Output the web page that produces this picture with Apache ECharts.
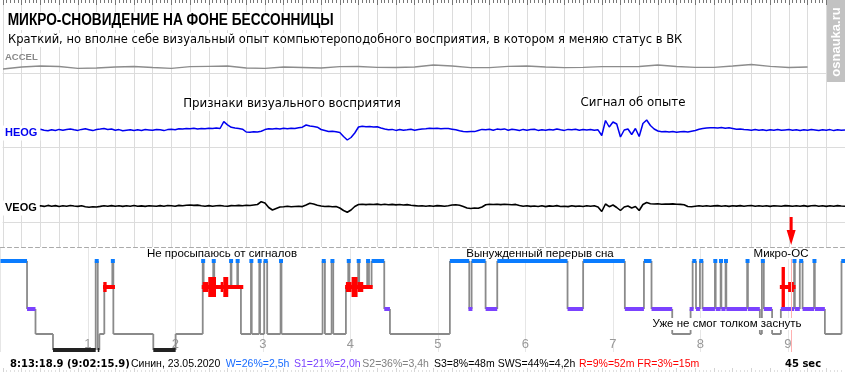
<!DOCTYPE html>
<html><head><meta charset="utf-8">
<script src="https://cdn.jsdelivr.net/npm/echarts@6/dist/echarts.min.js"></script>
<style>html,body{margin:0;padding:0;background:#fff}#c{width:845px;height:372px}</style>
</head><body><div id="c"></div>
<script>
// ---------- DATA ----------
// Signal window: 45 seconds. Values in µV (10 µV ≈ 1 px of the original trace)
const SIGNAL_SECONDS = 45;
const ACCEL_STEP = 1;      // s between ACCEL samples
const EOG_STEP = 0.2;      // s between HEOG / VEOG samples
const accel = [-20,0,10,5,-13,-10,0,5,-5,-13,3,7,10,-10,-13,0,-5,-10,3,5,-3,-5,0,20,10,-7,-7,7,10,0,-7,-3,3,3,5,20,5,-3,-3,10,25,7,-5,0];
const heog = [
0,5,-3,4,-5,2,8,-4,3,-6, 8,-2,-8,3,-5,6,-3,4,10,2, -4,6,12,3,-6,5,9,14,6,10,
-3,4,-7,-2,3,-5,2,-4,5,1, -3,6,2,-6,4,8,3,12,9,15, 13,18,11,16,12,18,14,20,15,83,
52,27,20,15,8,-20,-22,-17,-20,-12, 4,12,9,15,10,17,13,18,15,22, 28,50,40,35,28,5,-5,-15,-12,-18,
-25,-65,-100,-75,-30,30,38,33,35,30, 32,20,10,3,6,-4,5,-3,2,8, -2,4,10,13,18,15,17,12,16,14,
8,2,-8,-15,-18,-14,-16,-5,6,2, 8,-3,9,4,11,-2,7,3,-5,6, -2,5,8,-4,3,-3,6,1,10,2,
-4,6,3,8,-2,5,0,6,-3,2, -55,95,30,80,60,-70,0,10,-45,15, -65,65,100,45,10,-10,-17,-15,-20,-16,
-22,-18,-15,-20,-12,-5,8,15,20,22, 23,20,24,18,22,15,8,10,5,2, -3,4,-2,2,-4,3,-2,5,-3,1,
4,-2,3,-5,2,-3,5,1,-4,3, -2,4,-6,2,-3,1];
const veog = [
0,-4,3,-2,5,-3,2,-5,4,-2, 3,-4,6,-2,4,-5,2,-3,5,0, -4,2,-8,-12,-8,-10,-4,3,-2,4,
-3,2,-4,3,-2,5,-3,1,-4,3, 0,-3,4,-2,5,2,-3,6,3,8, 10,6,9,3,-2,4,-3,2,5,0,
-3,4,2,6,3,8,5,10,15,43, 30,-15,-40,-25,-10,-7,-3,-8,-5,-2, -6,10,27,20,8,0,-5,-3,-8,-5,
-20,-45,-63,-40,-5,15,18,14,17,15, 19,13,17,12,16,11,15,10,14,8, 4,0,3,-2,2,-3,4,1,-2,3,
10,12,8,-5,-20,-25,-20,-23,-10,12, 17,15,18,14,17,15,12,16,5,-2, 3,-4,0,-5,2,-6,1,-3,4,-5,
-2,-6,2,-4,0,-5,3,-3,2,-10, -55,20,-7,10,-15,-45,-10,0,-20,-5, -45,15,35,22,20,22,18,20,19,21,
18,16,12,-5,-8,-3,2,-2,3,-3, 1,4,-2,3,-4,2,-1,4,-3,2, 5,-2,3,-3,2,-4,3,0,-3,4,
1,-3,3,-2,4,-4,2,5,-2,3, -4,2,-3,4,0,-2];

// Hypnogram: minutes from start of recording, stage that begins at that minute
const hypnoStart = [0,18.2,24.0,36.0,65.3,66.7,67.8,71.2,76.7,77.4,104.8,120.1,138.7,139.3,145.9,146.6,157.9,158.4,162.4,162.9,
164.9,171.8,172.3,177.5,178.0,180.9,182.9,192.1,192.7,220.9,222.5,227.1,228.2,236.9,238.5,239.2,245.3,246.0,251.5,252.7,
254.5,263.2,267.1,308.2,321.5,323.1,332.7,340.7,388.9,399.6,428.2,441.3,446.5,460.7,473.3,474.7,477.0,479.7,481.5,490.0,
490.5,493.9,494.4,497.3,497.8,512.1,512.6,520.8,522.2,523.5,529.2,535.2,544.3,544.8,548.2,550.1,558.0,558.5,565.4,576.8];
const hypnoStage = ['W','S1','S2','S3','W','S3','S2','R','W','S2','S3','S2','W','R','W','R','W','R','W','R',
'S2','W','S2','W','S2','W','S2','W','S2','W','S2','W','S2','R','W','R','W','R','W','R',
'W','S1','S2','W','S1','W','S1','W','S1','W','S1','W','S1','S2','S1','W','S1','W','S1','W',
'S1','W','S1','W','S1','W','S1','S2','W','S1','S2','S1','W','S1','W','S1','W','S1','S2','W'];
const hypnoEnd = 579.2;
// REM eye-movement density marks (minutes, level 1..4)
const remStart = [70.3,138.0,236.9,534.5,70.5,138.7,151.0,236.9,244.9,540.2,142.5,152.8,240.8,535.7];
const remEnd   = [78.5,166.5,255.2,545.3,72.8,142.5,152.8,240.8,248.8,544.1,147.8,156.2,244.9,538.0];
const remLevel = [1,1,1,1,2,2,2,2,2,2,3,3,3,4];
const cursorMinute = 542.265; // 9:02:15.9
const hourTicks = [1,2,3,4,5,6,7,8,9];

// ---------- STYLE ----------
const STAGES = ['W','R','S1','S2','S3'];
const STAGE_Y = [14, 40, 62, 87, 103];
const STAGE_COLOR = ['#0a7cff','#ff0000','#7b42ff', null, '#222222'];
const STAGE_H = [4,4,4,0,4];
const REM_H = [0,4,10,20,40];
const GRID_C = '#dcdcdc';
const FF = '"Liberation Sans", Arial, sans-serif';
const DV = '"DejaVu Sans", sans-serif';

const chart = echarts.init(document.getElementById('c'));

const sigX = (gi, pos, extra) => Object.assign({
  gridIndex: gi, type: 'value', min: 0, max: SIGNAL_SECONDS, interval: 1, position: pos,
  axisLine: {show: false, onZero: false}, axisTick: {show: false}, axisLabel: {show: false},
  splitLine: {show: true, lineStyle: {color: GRID_C, width: 1}}
}, extra || {});
const bandLine = {show: true, onZero: false, lineStyle: {color: GRID_C}};

const segs = hypnoStart.map((t, i) => [t, i + 1 < hypnoStart.length ? hypnoStart[i + 1] : hypnoEnd,
  STAGES.indexOf(hypnoStage[i]), i > 0 ? STAGES.indexOf(hypnoStage[i - 1]) : -1]);
const remData = remStart.map((s, i) => [s, remEnd[i], remLevel[i]]);

function connItem(params, api) {
  const k = api.value(2), p = api.value(3);
  const a = api.coord([api.value(0), STAGE_Y[k]]);
  const b = api.coord([api.value(1), STAGE_Y[k]]);
  const ch = [];
  if (p >= 0) {
    const q = api.coord([api.value(0), STAGE_Y[p]]);
    ch.push({type: 'line', shape: {x1: a[0], y1: q[1], x2: a[0], y2: a[1]}, style: {stroke: '#8a8a8a', lineWidth: 1.8}});
  }
  if (k === 3) ch.push({type: 'line', shape: {x1: a[0], y1: a[1], x2: b[0], y2: b[1]}, style: {stroke: '#8a8a8a', lineWidth: 2}});
  return {type: 'group', children: ch};
}
function stageItem(params, api) {
  const k = api.value(2);
  if (!STAGE_COLOR[k]) return null;
  const a = api.coord([api.value(0), STAGE_Y[k]]);
  const b = api.coord([api.value(1), STAGE_Y[k]]);
  let x = a[0], w = b[0] - a[0];
  const minW = k === 4 ? 0 : 4;
  if (w < minW) { x = (a[0] + b[0]) / 2 - minW / 2; w = minW; }
  const h = STAGE_H[k];
  return {type: 'rect', shape: {x: x, y: a[1] - h / 2, width: w, height: h}, style: {fill: STAGE_COLOR[k]}};
}
function remItem(params, api) {
  const a = api.coord([api.value(0), STAGE_Y[1]]);
  const b = api.coord([api.value(1), STAGE_Y[1]]);
  const h = REM_H[api.value(2)];
  return {type: 'rect', shape: {x: a[0], y: a[1] - h / 2, width: Math.max(b[0] - a[0], 2), height: h}, style: {fill: '#ff0000'}};
}

function T(x, y, text, o) {
  o = o || {};
  return {type: 'text', z: 100, style: Object.assign({
    x: x, y: y, text: text, fontFamily: FF, fontSize: 13, fill: '#000',
    verticalAlign: 'middle', align: 'left'
  }, o)};
}
const WB = {backgroundColor: '#fff', padding: [1, 2, 1, 2]};
const WBH = {backgroundColor: '#fff', padding: [0, 2, 0, 2], lineHeight: 11, fontSize: 11.5, align: 'center'};

const option = {
  animation: false,
  textStyle: {fontFamily: FF},
  grid: [
    {left: 3, width: 845, top: 0, height: 73},
    {left: 3, width: 845, top: 73, height: 74},
    {left: 3, width: 845, top: 147, height: 75},
    {left: 3, width: 845, top: 222, height: 25},
    {left: 0.5, width: 844.5, top: 247, height: 105},
    {left: 3, width: 845, top: 352, height: 20}
  ],
  xAxis: [
    sigX(0, 'top', {axisTick: {show: true, inside: true, length: 5, lineStyle: {color: '#777'}},
      minorTick: {show: true, splitNumber: 5, length: 3, lineStyle: {color: '#777'}}}),
    sigX(1, 'top', {axisLine: bandLine}),
    sigX(2, 'top', {axisLine: bandLine}),
    sigX(3, 'top', {axisLine: bandLine}),
    {gridIndex: 4, type: 'value', min: 0, max: hypnoEnd, interval: 60, position: 'bottom',
      axisLine: {show: false, onZero: false}, axisTick: {show: false},
      axisLabel: {show: true, color: '#999', fontSize: 13, margin: -14, showMaxLabel: false, showMinLabel: false,
        formatter: v => (hourTicks.indexOf(v / 60) >= 0 ? String(v / 60) : '')},
      splitLine: {show: true, lineStyle: {color: '#e6e6e6'}}},
    {gridIndex: 4, type: 'value', min: 0, max: hypnoEnd, position: 'top',
      axisLine: {show: true, onZero: false, lineStyle: {color: '#aaaaaa', type: [4, 3]}}, axisTick: {show: false},
      axisLabel: {show: false}, splitLine: {show: false}},
    sigX(5, 'bottom', {splitLine: {show: false},
      axisTick: {show: true, inside: true, length: 4, lineStyle: {color: '#d4d4d4'}},
      minorTick: {show: true, splitNumber: 5, length: 2, lineStyle: {color: '#e0e0e0'}}})
  ],
  yAxis: [
    {gridIndex: 0, type: 'value', min: -60, max: 670, show: false},
    {gridIndex: 1, type: 'value', min: -170, max: 570, show: false},
    {gridIndex: 2, type: 'value', min: -160, max: 590, show: false},
    {gridIndex: 3, type: 'value', min: 0, max: 1, show: false},
    {gridIndex: 4, type: 'value', min: 0, max: 105, inverse: true, show: false},
    {gridIndex: 5, type: 'value', min: 0, max: 1, show: false}
  ],
  series: [
    {type: 'line', xAxisIndex: 0, yAxisIndex: 0, showSymbol: false, silent: true,
      data: accel.map((v, i) => [i * ACCEL_STEP, v]), lineStyle: {color: '#8c8c8c', width: 1.3}},
    {type: 'line', xAxisIndex: 1, yAxisIndex: 1, showSymbol: false, silent: true,
      data: heog.map((v, i) => [i * EOG_STEP, v]), lineStyle: {color: '#0000f0', width: 1.5}},
    {type: 'line', xAxisIndex: 2, yAxisIndex: 2, showSymbol: false, silent: true,
      data: veog.map((v, i) => [i * EOG_STEP, v]), lineStyle: {color: '#000', width: 1.6}},
    {type: 'custom', xAxisIndex: 4, yAxisIndex: 4, z: 2, silent: true, renderItem: connItem,
      encode: {x: [0, 1]}, data: segs},
    {type: 'custom', xAxisIndex: 4, yAxisIndex: 4, z: 3, silent: true, renderItem: stageItem,
      encode: {x: [0, 1]}, data: segs},
    {type: 'custom', xAxisIndex: 4, yAxisIndex: 4, z: 4, silent: true, renderItem: remItem,
      encode: {x: [0, 1]}, data: remData},
    {type: 'line', xAxisIndex: 4, yAxisIndex: 4, z: 5, silent: true, showSymbol: false,
      data: [[cursorMinute, 0]], lineStyle: {opacity: 0},
      markLine: {silent: true, symbol: ['none', 'none'], label: {show: false},
        lineStyle: {color: '#ffb0b0', width: 1, type: 'solid'}, data: [{xAxis: cursorMinute}]},
      markPoint: {silent: true, symbol: 'path://M3,0 L6,0 L6,13 L9,13 L4.5,28 L0,13 L3,13 Z', symbolSize: [9, 28],
        symbolOffset: [0, -16], itemStyle: {color: '#ff0000'}, label: {show: false},
        data: [{coord: [cursorMinute, 0]}]}}
  ],
  graphic: [
    {type: 'text', z: 100, x: 6, y: 21, scaleX: 0.855,
      style: Object.assign({x: 0, y: 0, text: 'МИКРО-СНОВИДЕНИЕ НА ФОНЕ БЕССОННИЦЫ', fontSize: 16, fontWeight: 'bold',
        fontFamily: FF, fill: '#000', verticalAlign: 'middle', align: 'left'}, WB)},
    T(6, 40, 'Краткий, но вполне себе визуальный опыт компьютероподобного восприятия, в котором я меняю статус в ВК', Object.assign({fontSize: 11.5, fontFamily: DV}, WB)),
    T(5, 57, 'ACCEL', {fontSize: 9.5, fontWeight: 'bold', fill: '#888'}),
    T(3, 133, 'HEOG', {fontSize: 11, fontWeight: 'bold', fill: '#0000f0', backgroundColor: '#fff', padding: [2, 3, 2, 2]}),
    T(3, 208, 'VEOG', {fontSize: 11, fontWeight: 'bold', fill: '#000', backgroundColor: '#fff', padding: [2, 3, 2, 2]}),
    T(292, 104, 'Признаки визуального восприятия', Object.assign({align: 'center', fontSize: 11.8, fontFamily: DV}, WB)),
    T(633, 103, 'Сигнал об опыте', Object.assign({align: 'center', fontSize: 11.8, fontFamily: DV}, WB)),
    T(222, 253.5, 'Не просыпаюсь от сигналов', WBH),
    T(540, 253.5, 'Вынужденный перерыв сна', WBH),
    T(781, 253.5, 'Микро-ОС', WBH),
    T(727, 324, 'Уже не смог толком заснуть', Object.assign({}, WBH, {lineHeight: 12})),
    T(10, 364, '8:13:18.9 (9:02:15.9)', {fontFamily: DV, fontSize: 10, fontWeight: 'bold'}),
    T(131, 364, 'Синин, 23.05.2020', {fontSize: 10.5}),
    T(225.7, 364, 'W=26%=2,5h', {fontSize: 10.5, fill: '#1a6dff'}),
    T(294, 364, 'S1=21%=2,0h', {fontSize: 10.5, fill: '#7b42ff'}),
    T(362.3, 364, 'S2=36%=3,4h', {fontSize: 10.5, fill: '#808080'}),
    T(434, 364, 'S3=8%=48m SWS=44%=4,2h', {fontSize: 10.5}),
    T(579, 364, 'R=9%=52m FR=3%=15m', {fontSize: 10.5, fill: '#ff0000'}),
    T(785, 364, '45 sec', {fontFamily: DV, fontSize: 10, fontWeight: 'bold'}),
    {type: 'rect', z: 100, shape: {x: 827, y: 0, width: 18, height: 82}, style: {fill: '#c2c2c2'}},
    {type: 'text', z: 101, x: 836, y: 42, rotation: Math.PI / 2,
      style: {x: 0, y: 0, text: 'osnauka.ru', fontFamily: FF, fontSize: 13, fontWeight: 'bold', fill: '#fff', align: 'center', verticalAlign: 'middle'}}
  ]
};
chart.setOption(option);
</script></body></html>
